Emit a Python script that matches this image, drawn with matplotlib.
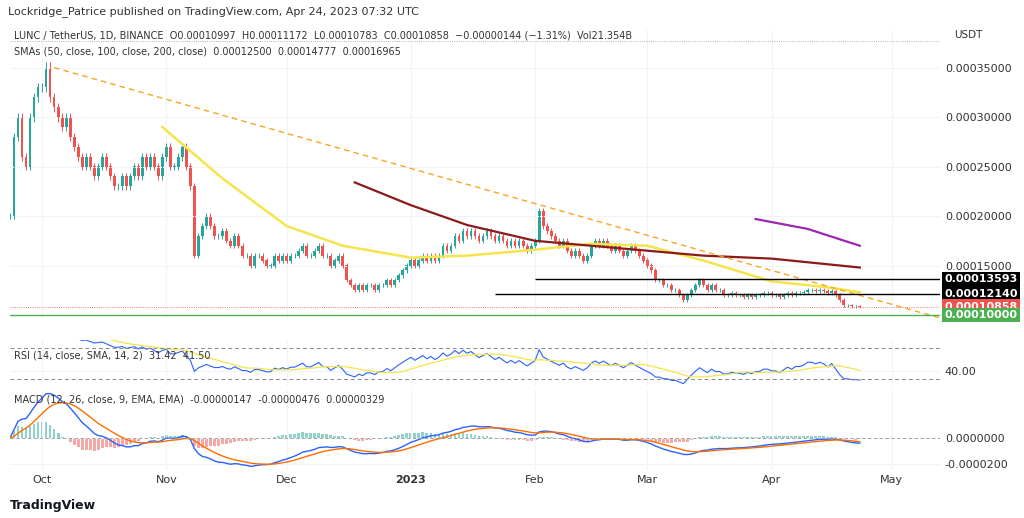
import matplotlib
matplotlib.use("Agg")
import matplotlib.pyplot as plt
import matplotlib.transforms as mtrans
import numpy as np
import pandas as pd

# daily closes (units of 1e-4 USDT), starting 2022-09-23
closes = [2.0,2.8,3.0,2.6,2.5,3.0,3.2,3.3,
 3.3,3.5,3.2,3.1,3.0,2.9,3.0,2.8,2.7,2.6,2.5,2.6,2.5,2.4,2.5,2.6,2.5,2.4,2.3,2.3,2.4,2.3,2.4,2.5,2.4,2.6,2.5,2.6,2.5,2.4,2.6,
 2.7,2.5,2.5,2.6,2.7,2.5,2.3,1.6,1.8,1.9,2.0,1.9,1.8,1.8,1.85,1.75,1.7,1.8,1.7,1.6,1.6,1.5,1.6,1.6,1.55,1.5,1.5,1.6,1.55,1.6,
 1.55,1.6,1.6,1.65,1.7,1.6,1.6,1.65,1.7,1.6,1.6,1.5,1.55,1.6,1.5,1.35,1.3,1.25,1.3,1.25,1.3,1.3,1.25,1.3,1.3,1.35,1.3,1.35,1.4,1.45,1.5,
 1.55,1.5,1.55,1.6,1.55,1.6,1.55,1.6,1.7,1.65,1.7,1.8,1.75,1.85,1.8,1.85,1.8,1.75,1.8,1.85,1.8,1.75,1.8,1.75,1.7,1.75,1.7,1.75,1.7,1.65,1.7,
 1.75,2.05,1.9,1.85,1.8,1.75,1.7,1.75,1.65,1.6,1.65,1.6,1.55,1.6,1.7,1.75,1.7,1.75,1.7,1.65,1.7,1.65,1.6,1.65,1.7,1.65,1.6,1.55,
 1.5,1.45,1.35,1.35,1.3,1.3,1.25,1.25,1.2,1.15,1.2,1.25,1.3,1.35,1.3,1.25,1.3,1.25,1.25,1.2,1.2,1.22,1.2,1.2,1.18,1.2,1.18,1.2,1.2,1.22,1.22,
 1.2,1.2,1.18,1.2,1.22,1.2,1.22,1.22,1.23,1.25,1.25,1.24,1.25,1.24,1.22,1.24,1.2,1.15,1.1,1.1,1.09,1.09,1.0858]
start_date = "2022-09-23"

sma50_dates = ["2022-10-31","2022-11-15","2022-12-01","2022-12-15","2023-01-01","2023-01-15","2023-02-01","2023-02-15","2023-03-01","2023-03-15","2023-04-01","2023-04-15","2023-04-23"]
sma50_vals = [2.9,2.38,1.9,1.7,1.58,1.6,1.66,1.72,1.7,1.55,1.34,1.28,1.23]
sma100_dates = ["2022-12-18","2023-01-01","2023-01-15","2023-02-01","2023-02-15","2023-03-01","2023-03-15","2023-04-01","2023-04-23"]
sma100_vals = [2.34,2.11,1.91,1.75,1.70,1.65,1.60,1.57,1.48]
sma200_dates = ["2023-03-28","2023-04-10","2023-04-23"]
sma200_vals = [1.97,1.87,1.70]
trend_dates = ["2022-10-04","2023-05-13"]
trend_vals = [3.5,0.97]
levels = [1.3593,1.2140]
level_starts = ["2023-02-01","2023-01-22"]

closes = np.array(closes)*1e-4
dates = pd.date_range(start_date, periods=len(closes), freq="D")
opens = np.r_[closes[0], closes[:-1]]

W, H = 1024, 518
fig = plt.figure(figsize=(W/100, H/100), dpi=100)
def ax_at(l, t, r, b):
    return fig.add_axes([l/W, 1-b/H, (r-l)/W, (b-t)/H])
ax = ax_at(10, 30, 940, 318)
axr = ax_at(10, 340, 940, 385)
axm = ax_at(10, 390, 940, 470)
xmin, xmax = pd.Timestamp("2022-09-23"), pd.Timestamp("2023-05-13")
green, red = "#26a69a", "#ef5350"
for a in (ax, axr, axm):
    a.set_xlim(xmin, xmax)
    a.yaxis.tick_right()
    a.tick_params(axis="y", length=0, labelsize=8, colors="#333")
    a.grid(color="#f0f3fa", lw=0.8)
    for s in a.spines.values():
        s.set_visible(False)
    a.tick_params(axis="x", length=0)
for a in (ax, axr):
    a.set_xticklabels([])

col = np.where(closes >= opens, green, red)
ax.bar(dates, np.abs(closes-opens)+1e-7, bottom=np.minimum(opens, closes), width=0.7, color=col)
ax.vlines(dates, np.minimum(opens, closes)*0.985, np.maximum(opens, closes)*1.015, color=col, lw=0.7)
ax.plot(pd.to_datetime(sma50_dates), np.array(sma50_vals)*1e-4, color="#f5e44a", lw=1.8)
ax.plot(pd.to_datetime(sma100_dates), np.array(sma100_vals)*1e-4, color="#8b1a1a", lw=1.6)
ax.plot(pd.to_datetime(sma200_dates), np.array(sma200_vals)*1e-4, color="#9c27b0", lw=1.6)
ax.plot(pd.to_datetime(trend_dates), np.array(trend_vals)*1e-4, color="#f5a623", lw=1, ls=(0, (4, 3)))
for lv, st in zip(levels, level_starts):
    ax.hlines(lv*1e-4, pd.Timestamp(st), xmax, color="black", lw=1)
ax.axhline(1e-4, color="#4caf50", lw=1)
ax.axhline(closes[-1], color=red, lw=0.6, ls=":")
ax.axhline(0.000377, color="#999", lw=0.6, ls=":")
ax.set_ylim(0.000097, 0.000388)
ax.set_yticks([0.00015, 0.0002, 0.00025, 0.0003, 0.00035])
ax.set_yticklabels(["0.00015000", "0.00020000", "0.00025000", "0.00030000", "0.00035000"])
tr = mtrans.blended_transform_factory(ax.transAxes, ax.transData)
for v, c in [(0.00013593, "black"), (0.00012140, "black"), (0.00010858, red), (0.0001, "#4caf50")]:
    ax.text(1.005, v, f"{v:.8f}", transform=tr, fontsize=8, color="white", va="center", fontweight="bold",
            bbox=dict(boxstyle="square,pad=0.2", fc=c, ec="none"))
fig.text(1-70/W, 1-38/H, "USDT", fontsize=7.5, color="#333")

# RSI
s = pd.Series(closes, index=dates)
d = s.diff()
up = d.clip(lower=0).ewm(alpha=1/14, adjust=False).mean()
dn = (-d.clip(upper=0)).ewm(alpha=1/14, adjust=False).mean()
rsi = 100 - 100/(1+up/dn)
axr.plot(dates[5:], rsi[5:], color="#2962ff", lw=0.8)
axr.plot(dates, rsi.rolling(14).mean(), color="#f5e44a", lw=0.9)
axr.axhline(70, color="#888", lw=0.7, ls=(0, (4, 3)))
axr.axhline(30, color="#888", lw=0.7, ls=(0, (4, 3)))
axr.set_ylim(22, 80)
axr.set_yticks([40]); axr.set_yticklabels(["40.00"])

# MACD
macd = s.ewm(span=12, adjust=False).mean() - s.ewm(span=26, adjust=False).mean()
sig = macd.ewm(span=9, adjust=False).mean()
hist = macd - sig
hc = ["#26a69a" if h >= 0 else "#ef5350" for h in hist]
axm.bar(dates, hist, width=0.7, color=hc, alpha=0.5)
axm.plot(dates, macd, color="#2962ff", lw=1)
axm.plot(dates, sig, color="#ff6d00", lw=1)
axm.axhline(0, color="#999", lw=0.6, ls=(0, (4, 3)))
axm.set_yticks([0, -0.00002]); axm.set_yticklabels(["0.0000000", "-0.0000200"])

ticks = pd.to_datetime(["2022-10-01", "2022-11-01", "2022-12-01", "2023-01-01", "2023-02-01", "2023-03-01", "2023-04-01", "2023-05-01"])
axm.set_xticks(ticks)
axm.set_xticklabels(["Oct", "Nov", "Dec", "2023", "Feb", "Mar", "Apr", "May"], fontsize=8, color="#333")
axm.get_xticklabels()[3].set_fontweight("bold")

fig.text(8/W, 1-12/H, "Lockridge_Patrice published on TradingView.com, Apr 24, 2023 07:32 UTC", fontsize=8, color="#333", va="center")
fig.text(14/W, 1-36/H, "LUNC / TetherUS, 1D, BINANCE  O0.00010997  H0.00011172  L0.00010783  C0.00010858  −0.00000144 (−1.31%)  Vol21.354B", fontsize=7, color="#333", va="center")
fig.text(14/W, 1-52/H, "SMAs (50, close, 100, close, 200, close)  0.00012500  0.00014777  0.00016965", fontsize=7, color="#333", va="center")
fig.text(14/W, 1-356/H, "RSI (14, close, SMA, 14, 2)  31.42  41.50", fontsize=7, color="#333", va="center")
fig.text(14/W, 1-399/H, "MACD (12, 26, close, 9, EMA, EMA)  -0.00000147  -0.00000476  0.00000329", fontsize=7, color="#333", va="center")
fig.text(10/W, 1-505/H, "TradingView", fontsize=9, color="#131722", fontweight="bold", va="center")
fig.savefig("out.png", dpi=100)
